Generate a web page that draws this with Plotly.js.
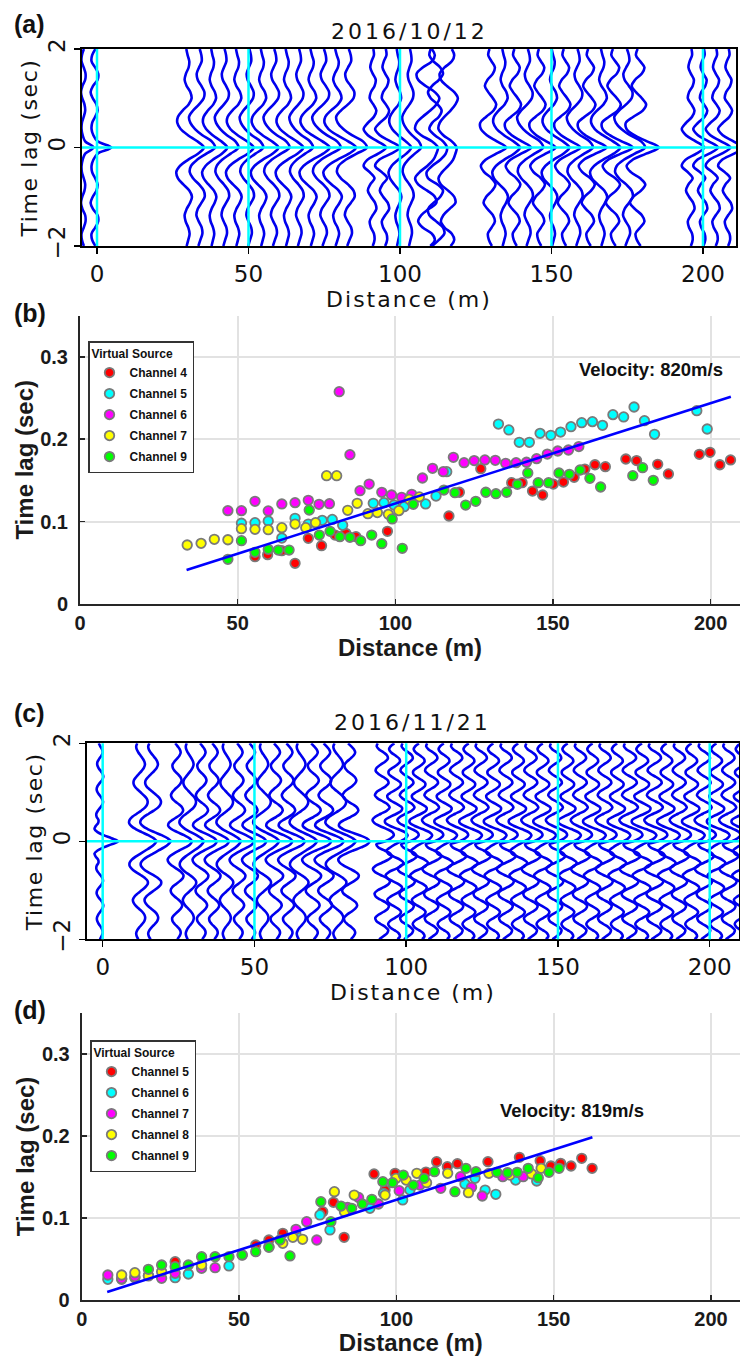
<!DOCTYPE html>
<html><head><meta charset="utf-8">
<script src="https://cdn.plot.ly/plotly-3.0.1.min.js"></script>
<style>body{margin:0;background:#fff}</style>
</head><body><div id="chart" style="width:740px;height:1356px"></div>
<script>
// ---------- shared ticks ----------
const distTicks = [0, 50, 100, 150, 200];
const lagTicks = [-2, 0, 2];
const zeroLag = [0];
const vTicks = [0, 0.1, 0.2, 0.3];

// time-lag samples of the wiggles (sec)
const tS = [-2,-1.875,-1.75,-1.625,-1.5,-1.375,-1.25,-1.125,-1,-0.875,-0.75,-0.625,-0.5,-0.375,-0.25,-0.125,0,0.125,0.25,0.375,0.5,0.625,0.75,0.875,1,1.125,1.25,1.375,1.5,1.625,1.75,1.875,2];
const tF = [-2,-1.9375,-1.875,-1.8125,-1.75,-1.6875,-1.625,-1.5625,-1.5,-1.4375,-1.375,-1.3125,-1.25,-1.1875,-1.125,-1.0625,-1,-0.9375,-0.875,-0.8125,-0.75,-0.6875,-0.625,-0.5625,-0.5,-0.4375,-0.375,-0.3125,-0.25,-0.1875,-0.125,-0.0625,0,0.0625,0.125,0.1875,0.25,0.3125,0.375,0.4375,0.5,0.5625,0.625,0.6875,0.75,0.8125,0.875,0.9375,1,1.0625,1.125,1.1875,1.25,1.3125,1.375,1.4375,1.5,1.5625,1.625,1.6875,1.75,1.8125,1.875,1.9375,2];

// ---------- panel (a) 2016/10/12 waveform shapes (m of deflection, sampled on tS) ----------
const A1 = [-0.2,0.3,0.7,0.3,-0.5,-0.8,-0.2,0.8, 1.4,0.6,-1.2,-2.8,-3.3,-2.2,0.2,3.2, 5.0, 3.0,0.2,-2.0,-3.0,-2.8,-1.4,0.4,1.3, 0.9,-0.2,-0.8,-0.4,0.4,0.6,0.1,-0.3];
const A2 = [-0.4,0.2,0.8,0.6,-0.3,-1.0,-0.6,0.5, 1.5,1.2,-0.2,-2.0,-3.0,-2.6,-0.8,2.0, 4.6, 3.6,0.8,-1.4,-2.8,-3.2,-2.0,-0.2,1.2, 1.4,0.5,-0.6,-0.9,-0.2,0.6,0.5,0.0];
const A3 = [0.3,-0.6,-0.9,0.2,1.2,0.6,-1.0,-2.2, -1.4,0.4,1.4,0.2,-2.0,-3.0,-1.6,1.6, 4.6, 1.8,-1.2,-3.0,-3.2,-1.4,0.8,1.6,0.6, -0.8,-1.8,-1.0,0.6,1.2,0.2,-0.8,-0.4];
const A4 = [1.5,3.0,2.0,-1.0,-2.5,-1.5,1.0,3.5, 3.0,0.5,-2.5,-3.5,-2.0,0.5,2.5,3.5, 4.0, 2.0,-1.5,-3.5,-3.0,-1.0,1.5,3.5,4.5, 3.0,0.0,-2.5,-3.0,-1.0,2.0,3.0,2.0];
const A5 = [0.3,-0.8,-1.0,0.2,1.2,1.0,-0.5,-1.3, -0.6,0.6,1.0,0.2,-0.8,-1.0,-0.4,1.0, 5.5, 1.0,-0.4,-1.0,-0.8,0.2,1.0,0.6,-0.6, -1.3,-0.5,1.0,1.2,0.2,-1.0,-0.8,0.3];
const A6 = [0.0,0.6,0.4,-0.6,-1.0,0.0,1.2,0.8, -0.6,-1.6,-0.8,0.6,-1.0,-3.0,-1.8,1.8, 4.4, 1.6,-1.6,-3.0,-1.6,0.4,1.2,0.2,-1.0, -0.6,0.6,1.0,0.0,-0.8,-0.4,0.4,0.2];
const A7 = [-1.0,1.5,3.5,3.0,0.5,-2.0,-2.5,-0.5, 2.0,3.0,1.0,-2.5,-3.0,-1.0,2.0,4.0, 4.5, 3.0,0.0,-2.0,-1.0,1.5,2.5,1.0,-1.5, -2.5,-1.0,1.5,3.0,2.0,-0.5,-2.0,-1.5];
const aDist = [-4.5,-0.8, 29.8,33.9,38.0,42.1,46.2,50.3,54.4,58.5,62.6,66.7,70.8,74.9,79.0,83.1, 91.0,95.1,99.2,103.3, 108.5,111.5,115.5, 130.0,134.1,138.2,142.2,146.3,150.4,154.5,158.6,162.6,166.7,170.8,174.9,179.0, 196.0,200.1,204.2,208.3];
const aShape = [4,4, 0,1,0,1,0,1,0,1,0,1,0,1,0,1, 5,5,0,1, 3,6,3, 2,0,2,1,2,0,2,1,2,0,2,1,2, 5,5,5,5];
const aGain = [0.6,1.0, 1.1,1.1,1.0,1.0,1.1,1.0,1.1,1.1,1.1,1.0,1.2,1.2,1.3,1.3, 1.0,1.1,0.9,0.8, 1.0,0.9,0.8, 1.1,1.1,1.1,1.1,1.1,1.1,1.1,1.1,1.2,1.2,1.3,1.3,1.4, 1.0,1.1,1.1,1.1];

// ---------- panel (c) 2016/11/21 waveform shapes (sampled on tF) ----------
const C1 = [0.2,0.9,1.3,1.1,0.3,-0.7,-1.4,-1.5,-0.8,0.3,1.3,1.8,1.5,0.5,-0.7,-1.7, -2.0,-1.5,-0.3,1.0,2.0,2.2,1.4,0.0,-1.5,-2.6,-3.0,-2.4,-1.0,0.8,2.8,4.4,
            5.0, 4.2,2.4,0.2,-1.8,-2.8,-2.6,-1.4,0.2,1.5,2.1,1.8,0.8,-0.5,-1.5,-1.9,-1.5, -0.6,0.5,1.3,1.6,1.2,0.3,-0.7,-1.3,-1.4,-0.8,0.1,0.9,1.3,1.0,0.3,-0.5];
const C2 = [-0.8,0.4,1.5,1.8,1.0,-0.4,-1.6,-1.9,-1.0,0.5,1.7,2.0,1.1,-0.5,-1.8,-2.1, -1.2,0.5,1.9,2.3,1.4,-0.4,-2.0,-2.6,-1.8,0.0,1.8,2.8,2.4,0.8,-1.0,-1.6,
            1.0, 2.6,3.4,3.0,1.4,-0.6,-2.2,-2.7,-1.9,-0.3,1.4,2.2,1.7,0.3,-1.2,-2.0,-1.6, -0.3,1.1,1.9,1.6,0.4,-1.0,-1.8,-1.5,-0.4,0.9,1.7,1.5,0.5,-0.8,-1.5,-1.2];
const C3 = [0.9,1.6,1.2,0.0,-1.3,-1.8,-1.2,0.2,1.5,1.9,1.1,-0.4,-1.7,-2.0,-1.0,0.6, 1.9,2.2,1.2,-0.5,-2.0,-2.5,-1.5,0.4,2.0,2.6,1.6,-0.2,-1.8,-2.2,-1.2,0.2,
            1.8, 3.2,3.8,3.0,1.0,-1.2,-2.6,-2.6,-1.2,0.6,2.0,2.2,1.0,-0.6,-1.8,-2.0,-0.9, 0.6,1.7,1.8,0.8,-0.6,-1.6,-1.6,-0.5,0.8,1.6,1.4,0.3,-0.9,-1.5,-1.1,0.0];
const C4 = [-0.6,-1.2,-1.4,-1.0,-0.2,0.8,1.6,1.9,1.6,0.8,-0.4,-1.6,-2.4,-2.6,-2.0,-0.8, 0.6,1.9,2.8,2.8,1.8,0.2,-1.6,-3.0,-3.8,-3.8,-3.0,-1.6,0.2,2.0,3.8,5.2,
            6.0, 5.0,3.0,0.6,-1.6,-3.2,-4.0,-3.8,-2.8,-1.2,0.4,1.8,2.6,2.8,2.4,1.4,0.2, -1.0,-2.0,-2.4,-2.2,-1.4,-0.4,0.6,1.4,1.8,1.6,1.0,0.2,-0.6,-1.2,-1.4,-1.0];
const C5 = [0.0,0.5,0.9,0.8,0.3,-0.4,-0.9,-1.0,-0.6,0.1,0.8,1.1,0.8,0.1,-0.7,-1.1, -0.9,-0.2,0.6,1.0,0.8,0.1,-0.7,-1.2,-1.1,-0.5,-0.6,-1.4,-1.8,-0.8,1.2,3.8,
            6.0, 3.8,1.2,-0.8,-1.8,-1.4,-0.6,-0.5,-1.1,-1.2,-0.7,0.1,0.8,1.0,0.6,-0.1,-0.8, -1.1,-0.8,-0.1,0.7,1.1,0.9,0.2,-0.5,-0.9,-0.8,-0.2,0.5,0.9,0.7,0.1,-0.4];
const cDist = [-0.9,12.3,16.4, 24.4,28.5,32.6,36.6,40.7,44.8,48.9,53.0,57.0,61.1,65.2,69.3,73.4,77.4,81.5, 92.0,96.1,100.2,104.2,108.3,112.4,116.5,120.6,124.6,128.7,132.8,136.9,141.0,145.0,149.1,153.2,157.3,161.4,165.4,169.5,173.6,177.7,181.8,185.8,189.9,194.0,198.1,202.2,206.2,210.3];
const cShape = [4,3,3, 0,3,0,0,3,0,0,3,0,0,3,0,0,3,0, 1,2,1,2,1,2,1,2,1,2,1,2,1,2,1,2,1,2,1,2,1,2,1,2,1,2,1,2,1,2];
const cGain = [1.0,0.9,1.0, 1.0,0.8,1.0,1.0,0.8,1.0,1.0,0.85,1.1,1.1,0.9,1.2,1.2,1.0,1.3, 1.15,1.15,1.15,1.15,1.15,1.15,1.15,1.15,1.15,1.15,1.15,1.15,1.15,1.15,1.15,1.15,1.15,1.15,1.15,1.15,1.25,1.25,1.25,1.15,1.15,1.15,1.15,1.15,1.15,1.15];

// ---------- panel (b) picks ----------
const bCh4x = [55.5,59.5,64.0,68.2,72.4,76.6,80.9,84.3,87.5,97.5,117.0,120.3,127.1,136.9,140.2,143.5,146.7,150.1,153.3,156.7,160.1,163.3,166.6,173.1,176.5,183.2,186.6,196.4,199.8,202.9,206.3];
const bCh4y = [0.0574,0.0599,0.0647,0.0494,0.0797,0.0708,0.0837,0.0858,0.0817,0.0882,0.1068,0.1356,0.1642,0.1472,0.1472,0.1371,0.1323,0.1456,0.148,0.1537,0.1638,0.169,0.1667,0.176,0.174,0.1695,0.1578,0.1816,0.1841,0.169,0.1748];
const bCh5x = [51.2,55.5,59.7,64.0,68.2,72.4,76.8,80.0,83.3,93.0,96.4,99.6,102.8,109.6,112.9,116.3,132.7,136.0,139.3,142.5,145.9,149.3,152.4,155.7,159.1,162.5,165.7,169.0,172.4,175.7,179.0,182.2,195.6,198.9];
const bCh5y = [0.098,0.0987,0.1007,0.08,0.104,0.097,0.1015,0.1027,0.0955,0.1222,0.123,0.1201,0.1181,0.1214,0.131,0.1606,0.2184,0.2112,0.1962,0.1962,0.2071,0.2047,0.2087,0.2152,0.22,0.2213,0.2168,0.2298,0.227,0.2391,0.2225,0.2059,0.2346,0.2124];
const bCh6x = [46.9,51.2,55.5,59.7,64.0,68.2,72.4,75.8,79.1,82.2,85.6,88.8,91.7,95.7,98.8,102.0,105.2,108.6,111.8,115.2,118.4,121.8,125.0,128.4,131.7,135.0,138.3,141.6,144.8,148.2,151.5,154.9,158.2];
const bCh6y = [0.1133,0.1133,0.1246,0.1129,0.1214,0.123,0.1258,0.121,0.1217,0.2577,0.1812,0.1375,0.1456,0.1355,0.1323,0.1295,0.1331,0.1529,0.1647,0.1606,0.178,0.1715,0.174,0.1748,0.1744,0.1707,0.1715,0.172,0.1764,0.182,0.1857,0.1869,0.191];
const bCh7x = [34.0,38.4,42.6,46.9,51.2,55.5,59.7,64.0,68.2,71.6,74.7,78.2,81.4,84.9,87.9,91.3,94.3,97.8,101.1,104.4,107.6];
const bCh7y = [0.0716,0.0736,0.0785,0.078,0.0914,0.0906,0.0902,0.0926,0.097,0.0926,0.0987,0.1557,0.1557,0.1137,0.1222,0.1096,0.111,0.1088,0.1133,0.127,0.130];
const bCh9x = [46.9,51.2,55.5,59.7,62.9,66.3,72.7,75.9,79.3,82.4,85.6,89.0,92.5,95.7,99.0,102.2,105.7,115.4,118.9,122.3,125.5,128.7,131.9,135.3,138.7,142.0,145.3,148.6,151.9,155.2,158.6,161.7,165.1,175.3,178.4,181.8];
const bCh9y = [0.0542,0.0768,0.0627,0.0663,0.0655,0.0655,0.1141,0.0837,0.0882,0.0817,0.0809,0.0768,0.0837,0.0732,0.1032,0.0676,0.121,0.1383,0.1351,0.1201,0.1246,0.1356,0.1339,0.1356,0.1453,0.159,0.1472,0.1472,0.159,0.1574,0.1626,0.1525,0.142,0.1557,0.1654,0.1501];
const bFitX = [33.8, 206.4];
const bFitY = [0.0413, 0.2516];

// ---------- panel (d) picks ----------
const dCh5x = [29.7,55.3,59.5,63.9,76.6,80.0,83.4,92.9,96.4,99.6,109.4,112.8,116.2,119.4,129.1,139.1,145.7,149.1,152.2,155.5,158.9,162.2];
const dCh5y = [0.0467,0.0671,0.0732,0.0813,0.1077,0.1191,0.0764,0.1537,0.1341,0.1545,0.156,0.1687,0.1626,0.1662,0.1687,0.174,0.1699,0.1634,0.1667,0.1634,0.1728,0.1606];
const dCh6x = [8.3,12.7,16.9,21.2,29.7,33.9,46.8,51.0,59.5,68.1,75.7,78.9,91.6,95.9,102.0,104.3,121.8,125.0,128.2,131.6,137.9,144.6];
const dCh6y = [0.0252,0.0252,0.027,0.03,0.0272,0.0317,0.0415,0.055,0.065,0.08,0.1037,0.0854,0.1118,0.1301,0.122,0.1341,0.1415,0.1484,0.1341,0.1289,0.1463,0.1451];
const dCh7x = [8.3,12.7,16.9,25.4,29.7,38.1,42.4,68.1,71.5,74.7,84.5,88.0,94.3,100.9,107.5,114.1,120.4,123.9,127.3,133.8,140.3];
const dCh7y = [0.0305,0.026,0.0285,0.0264,0.0325,0.0386,0.0394,0.0862,0.0955,0.0732,0.113,0.125,0.1171,0.1333,0.1402,0.1362,0.1504,0.1374,0.1268,0.1504,0.1504];
const dCh8x = [12.7,16.9,21.2,25.4,38.1,63.9,67.1,70.2,80.3,83.5,86.6,96.4,99.9,103.1,106.5,109.6,116.3,122.9,129.4,136.1,143.0,146.0];
const dCh8y = [0.0305,0.0333,0.0293,0.0346,0.0427,0.0691,0.0764,0.074,0.1321,0.1077,0.128,0.128,0.1484,0.1463,0.1545,0.1431,0.1545,0.1309,0.1545,0.1524,0.1537,0.1606];
const dCh9x = [21.2,25.4,29.7,33.9,38.1,42.4,46.8,51.0,55.3,59.5,63.0,66.2,76.0,79.2,82.4,85.8,89.2,92.2,95.7,98.8,102.2,105.4,108.8,112.1,118.6,122.1,125.3,131.9,135.3,138.4,141.9,145.1,148.5,151.7];
const dCh9y = [0.0374,0.0427,0.0407,0.0427,0.0528,0.0528,0.0528,0.0549,0.0589,0.0642,0.0732,0.0537,0.1199,0.0955,0.1146,0.1118,0.1171,0.1228,0.1443,0.1431,0.1524,0.1402,0.1484,0.1565,0.1321,0.1606,0.1565,0.1557,0.1552,0.1557,0.1606,0.1492,0.1557,0.1606];
const dFitX = [8.1, 162.3];
const dFitY = [0.0098, 0.1984];

// ---------- build ----------
const WIG = '#0000ee';
const CYAN = '#00ffff';
const traces = [];

function addWiggles(dists, shapes, gains, templates, times, xa, ya) {
  dists.forEach((d, i) => {
    const tpl = templates[shapes[i]];
    traces.push({
      type: 'scatter', mode: 'lines', xaxis: xa, yaxis: ya,
      x: tpl.map(v => d + gains[i] * v), y: times,
      line: {color: WIG, width: 2.6, shape: 'spline', smoothing: 1},
      showlegend: false, hoverinfo: 'skip'
    });
  });
}
addWiggles(aDist, aShape, aGain, [A1, A2, A3, A4, A5, A6, A7], tS, 'x', 'y');
addWiggles(cDist, cShape, cGain, [C1, C2, C3, C4, C5], tF, 'x3', 'y3');

const chanColors = ['#ff0000', '#00ffff', '#ff00ff', '#ffff00', '#00ff00'];
function addPicks(sets, names, xa, ya, legendId) {
  sets.forEach((s, i) => {
    traces.push({
      type: 'scatter', mode: 'markers', xaxis: xa, yaxis: ya, x: s[0], y: s[1],
      name: names[i], legend: legendId, legendgroup: legendId + i,
      marker: {size: 9.5, color: chanColors[i], line: {color: '#7a7a7a', width: 1.8}},
      cliponaxis: false
    });
  });
}
addPicks([[bCh4x, bCh4y], [bCh5x, bCh5y], [bCh6x, bCh6y], [bCh7x, bCh7y], [bCh9x, bCh9y]],
  ['Channel 4', 'Channel 5', 'Channel 6', 'Channel 7', 'Channel 9'], 'x2', 'y2', 'legend');
traces.push({type: 'scatter', mode: 'lines', xaxis: 'x2', yaxis: 'y2', x: bFitX, y: bFitY,
  line: {color: '#0000ff', width: 2.6}, showlegend: false, hoverinfo: 'skip'});
addPicks([[dCh5x, dCh5y], [dCh6x, dCh6y], [dCh7x, dCh7y], [dCh8x, dCh8y], [dCh9x, dCh9y]],
  ['Channel 5', 'Channel 6', 'Channel 7', 'Channel 8', 'Channel 9'], 'x4', 'y4', 'legend2');
traces.push({type: 'scatter', mode: 'lines', xaxis: 'x4', yaxis: 'y4', x: dFitX, y: dFitY,
  line: {color: '#0000ff', width: 2.6}, showlegend: false, hoverinfo: 'skip'});

// ---------- axes ----------
const wFont = {family: 'DejaVu Sans, sans-serif', size: 23, color: '#111'};
const wTitleFont = {family: 'DejaVu Sans, sans-serif', size: 22, color: '#111'};
function wigX(domain, range, anchor) {
  return {domain, range, anchor, tickmode: 'array', tickvals: distTicks, ticks: 'outside', ticklen: 6,
    tickwidth: 1.5, tickcolor: '#000', showline: true, linecolor: '#000', linewidth: 2, mirror: true,
    showgrid: false, zeroline: false, tickfont: wFont,
    title: {text: '<span style="letter-spacing:2px">Distance (m)</span>', font: wTitleFont, standoff: 4}};
}
function wigY(domain, anchor) {
  return {domain, range: [-2, 2], anchor, tickmode: 'array', tickvals: lagTicks, tickangle: -90,
    ticks: 'outside', ticklen: 6, tickwidth: 1.5, tickcolor: '#000', showline: true, linecolor: '#000',
    linewidth: 2, mirror: true, showgrid: false, zeroline: false, tickfont: wFont,
    title: {text: '<span style="letter-spacing:1.6px">Time lag (sec)</span>', font: wTitleFont, standoff: 0}};
}
const sFont = {family: 'Liberation Sans, Arial, sans-serif', size: 20, color: '#1a1a1a', weight: 'bold'};
const sTitleFont = {family: 'Liberation Sans, Arial, sans-serif', size: 24, color: '#1a1a1a', weight: 'bold'};
function scX(domain, range, anchor) {
  return {domain, range, anchor, tickmode: 'array', tickvals: distTicks, ticks: 'inside', ticklen: 5,
    tickwidth: 1.5, tickcolor: '#262626', showline: true, linecolor: '#262626', linewidth: 2,
    showgrid: true, gridcolor: '#e2e2e2', gridwidth: 2, zeroline: false, tickfont: sFont,
    title: {text: 'Distance (m)', font: sTitleFont, standoff: 2}};
}
function scY(domain, anchor) {
  return {domain, range: [0, 0.35], anchor, tickmode: 'array', tickvals: vTicks, ticks: 'inside',
    ticklen: 5, tickwidth: 1.5, tickcolor: '#262626', showline: true, linecolor: '#262626', linewidth: 2,
    showgrid: true, gridcolor: '#e2e2e2', gridwidth: 2, zeroline: false, tickfont: sFont,
    ticklabelstandoff: 6,
    title: {text: 'Time lag (sec)', font: sTitleFont, standoff: 0}};
}

// cyan reference lines on top of the wiggles, at the tick positions
const shapes = [];
[['x', 'y'], ['x3', 'y3']].forEach(([xa, ya]) => {
  distTicks.forEach(v => shapes.push({type: 'line', layer: 'above', xref: xa, yref: ya + ' domain',
    x0: v, x1: v, y0: 0, y1: 1, line: {color: CYAN, width: 2.5}}));
  zeroLag.forEach(v => shapes.push({type: 'line', layer: 'above', xref: xa + ' domain', yref: ya,
    x0: 0, x1: 1, y0: v, y1: v, line: {color: CYAN, width: 2.5}}));
});

const legFont = {family: 'Liberation Sans, Arial, sans-serif', size: 12, color: '#111', weight: 'bold'};
function legendAt(x, y) {
  return {x, y, xanchor: 'left', yanchor: 'top', bgcolor: '#ffffff', bordercolor: '#333',
    borderwidth: 1.5, font: legFont, tracegroupgap: 2, itemwidth: 30,
    title: {text: 'Virtual Source', font: legFont}};
}

const labFont = {family: 'Liberation Sans, Arial, sans-serif', size: 25, color: '#111', weight: 'bold'};
const dateFont = {family: 'DejaVu Sans, sans-serif', size: 22, color: '#111'};
const velFont = {family: 'Liberation Sans, Arial, sans-serif', size: 18.5, color: '#111', weight: 'bold'};
const annotations = [
  {text: '(a)', xref: 'paper', yref: 'paper', x: 12/740, y: 1 - 24/1356, xanchor: 'left', yanchor: 'middle', showarrow: false, font: labFont},
  {text: '(b)', xref: 'paper', yref: 'paper', x: 12/740, y: 1 - 313/1356, xanchor: 'left', yanchor: 'middle', showarrow: false, font: labFont},
  {text: '(c)', xref: 'paper', yref: 'paper', x: 12/740, y: 1 - 713/1356, xanchor: 'left', yanchor: 'middle', showarrow: false, font: labFont},
  {text: '(d)', xref: 'paper', yref: 'paper', x: 12/740, y: 1 - 1010/1356, xanchor: 'left', yanchor: 'middle', showarrow: false, font: labFont},
  {text: '<span style="letter-spacing:3px">2016/10/12</span>', xref: 'paper', yref: 'paper', x: 409/740, y: 1 - 31/1356, xanchor: 'center', yanchor: 'middle', showarrow: false, font: dateFont},
  {text: '<span style="letter-spacing:3px">2016/11/21</span>', xref: 'paper', yref: 'paper', x: 412/740, y: 1 - 722/1356, xanchor: 'center', yanchor: 'middle', showarrow: false, font: dateFont},
  {text: 'Velocity: 820m/s', xref: 'x2', yref: 'y2', x: 181, y: 0.284, xanchor: 'center', yanchor: 'middle', showarrow: false, font: velFont},
  {text: 'Velocity: 819m/s', xref: 'x4', yref: 'y4', x: 155.7, y: 0.2317, xanchor: 'center', yanchor: 'middle', showarrow: false, font: velFont}
];

const layout = {
  width: 740, height: 1356, margin: {l: 0, r: 0, t: 0, b: 0},
  paper_bgcolor: '#ffffff', plot_bgcolor: '#ffffff', showlegend: true,
  xaxis: wigX([82/740, 736/740], [-4.95, 210.9], 'y'),
  yaxis: wigY([1 - 246/1356, 1 - 49/1356], 'x'),
  xaxis2: scX([80/740, 1], [0, 209.3], 'y2'),
  yaxis2: scY([1 - 604/1356, 1 - 315.6/1356], 'x2'),
  xaxis3: wigX([87/740, 739/740], [-5.17, 209.65], 'y3'),
  yaxis3: wigY([1 - 939.3/1356, 1 - 743.3/1356], 'x3'),
  xaxis4: scX([81.7/740, 1], [0, 209.2], 'y4'),
  yaxis4: scY([1 - 1300/1356, 1 - 1013/1356], 'x4'),
  legend: legendAt(88/740, 1 - 341/1356),
  legend2: legendAt(90/740, 1 - 1040/1356),
  shapes, annotations
};

Plotly.newPlot('chart', traces, layout, {displayModeBar: false, staticPlot: true});
</script></body></html>
